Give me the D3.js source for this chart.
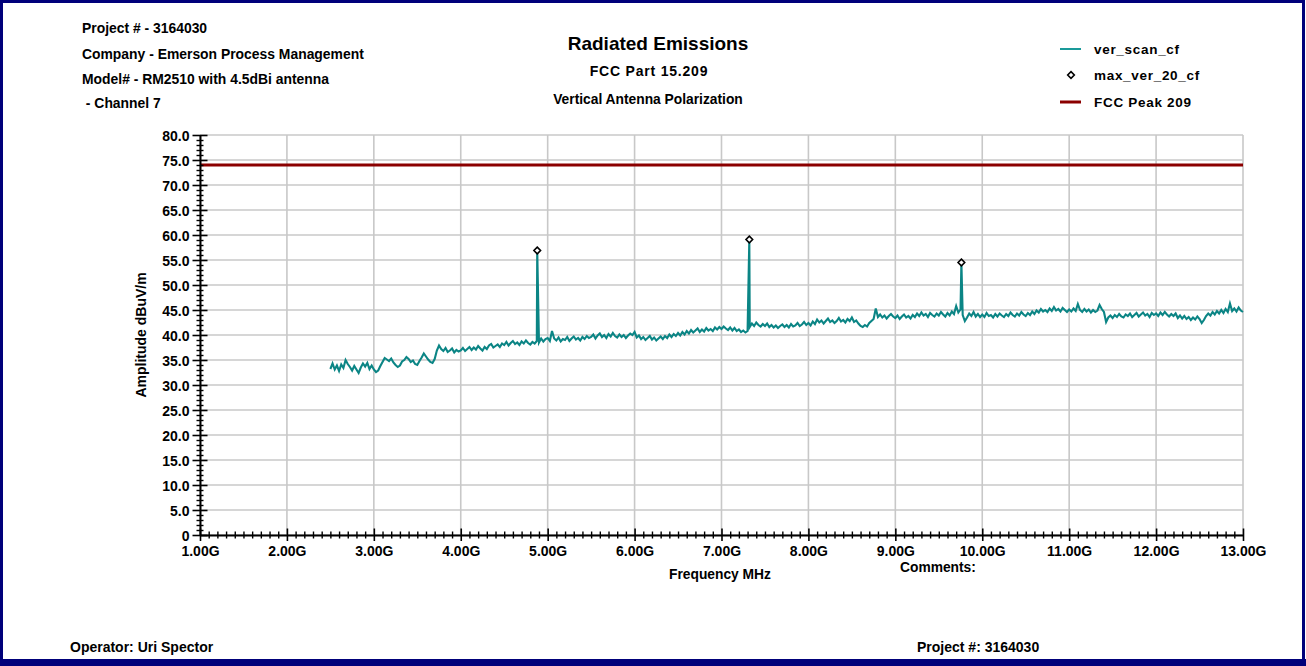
<!DOCTYPE html>
<html>
<head>
<meta charset="utf-8">
<script src="https://cdn.jsdelivr.net/npm/d3@7"></script>
<style>
  html, body { margin: 0; padding: 0; background: #fff; }
  svg { display: block; }
  text { font-family: "Liberation Sans", Arial, sans-serif; font-weight: bold; fill: #000; }
</style>
</head>
<body>
<svg id="chart" width="1306" height="666"></svg>
<script>
// Scan trace: amplitude in dBuV/m, sampled every 0.025 GHz from 2.5 GHz to 13.0 GHz
const scanStart = 2.5;
const scanStep = 0.025;
const scanValues = [
  33.2, 34.3, 33.1, 33.9, 32.8, 34.1, 33.4, 35.0, 34.2, 33.6, 32.9, 33.8, 33.1, 32.4, 33.5, 34.3, 33.7, 34.4, 33.2, 33.9,
  33.1, 32.6, 32.9, 33.8, 34.6, 35.4, 35.1, 34.8, 35.3, 34.5, 34.0, 33.6, 33.9, 34.7, 35.0, 35.6, 35.2, 34.6, 34.9, 34.2,
  34.0, 34.8, 35.5, 36.3, 35.7, 35.1, 34.6, 34.4, 35.2, 36.9, 37.9, 37.2, 36.8, 37.4, 36.6, 36.9, 37.3, 36.5, 37.0, 36.7,
  36.9, 37.4, 36.8, 37.2, 37.6, 37.0, 37.5, 37.1, 37.8, 37.3, 36.9, 37.6, 37.2, 37.9, 38.2, 37.5, 37.8, 38.1, 37.6, 38.3,
  38.0, 38.6, 37.9, 38.4, 38.8, 38.2, 38.5, 38.0, 38.7, 38.3, 38.9, 38.4, 38.1, 38.6, 38.3, 38.8, 38.5, 39.3, 38.7, 39.2,
  39.4, 38.8, 40.8, 39.3, 38.9, 39.5, 38.7, 39.2, 39.0, 39.6, 38.8, 39.3, 39.7, 39.1, 39.4, 38.9, 39.6, 39.2, 39.8, 39.4,
  39.6, 40.1, 39.3, 39.9, 40.3, 39.6, 40.0, 39.4, 40.2, 39.7, 40.4, 39.8, 39.5, 40.1, 39.6, 40.0, 39.4, 39.9, 40.3, 40.0,
  40.6, 39.5, 39.9, 39.2, 39.6, 39.0, 39.4, 39.8, 39.1, 39.5, 38.9, 39.3, 39.7, 39.2, 39.8, 39.4, 40.1, 39.6, 40.2, 39.8,
  40.4, 39.9, 40.6, 40.1, 40.8, 40.3, 41.0, 40.5, 40.9, 41.3, 40.6, 41.1, 40.7, 41.4, 40.9, 41.2, 40.8, 41.5, 41.1, 41.6,
  41.2, 41.7, 41.3, 41.0, 41.5, 40.9, 41.4, 40.8, 41.1, 40.6, 40.9, 40.5, 40.8, 41.6, 42.3, 41.8, 42.5, 42.0, 41.7, 42.2,
  41.8, 42.3, 41.6, 42.0, 41.5, 41.9, 41.4, 41.8, 42.1, 41.6, 42.0, 41.5, 42.2, 41.7, 41.9, 42.4, 41.8, 42.1, 42.6, 42.0,
  42.4, 41.9, 42.7, 42.2, 43.1, 42.5, 42.9, 42.3, 42.8, 43.3, 42.6, 42.9, 42.4, 42.8, 43.4, 42.7, 43.0, 42.5, 43.2, 42.8,
  43.5, 42.6, 42.9, 42.3, 41.8, 41.6, 42.0, 41.7, 42.4, 42.8, 43.2, 45.3, 43.6, 44.1, 43.5, 43.9, 43.3, 43.8, 44.2, 43.7,
  43.4, 43.9, 43.2, 43.7, 44.1, 43.5, 43.8, 43.3, 44.0, 43.6, 44.3, 43.8, 44.5, 43.9, 44.2, 43.6, 44.4, 44.0, 43.7, 44.3,
  43.9, 44.6, 44.1, 43.7, 44.4, 43.9, 44.7, 44.2, 45.8, 44.5, 45.1, 44.0, 42.8, 43.5, 44.3, 43.8, 44.6, 43.7, 44.2, 43.6,
  44.1, 43.6, 44.4, 43.8, 44.0, 43.5, 44.2, 43.7, 44.3, 43.9, 43.6, 44.2, 43.8, 44.5, 44.0, 43.7, 44.3, 43.9, 44.6, 44.1,
  43.8, 44.4, 44.0, 44.7, 44.2, 44.9, 44.5, 45.2, 44.7, 45.0, 44.6, 45.3, 44.8, 45.6, 44.9, 45.2, 44.7, 45.4, 45.0, 44.6,
  45.1, 44.7, 45.3, 44.8, 46.2, 45.0, 44.6, 45.2, 44.7, 45.1, 44.5, 45.0, 44.6, 44.9, 46.0, 45.2, 44.6, 42.6, 43.5, 43.9,
  43.4, 44.0, 43.6, 44.2, 43.7, 43.5, 44.1, 43.8, 44.3, 43.6, 44.0, 44.4, 43.7, 44.1, 44.5, 43.9, 44.2, 43.6, 44.4, 44.0,
  44.3, 43.8, 44.5, 44.0, 44.6, 44.1, 43.7, 44.2, 43.8, 44.3, 43.4, 43.9, 43.3, 43.8, 43.2, 43.6, 43.0, 43.5, 43.1, 43.7,
  43.2, 42.4, 43.0, 43.8, 44.3, 43.9, 44.6, 44.1, 44.8, 44.3, 45.0, 44.4, 45.2, 44.6, 46.3, 44.8, 45.3, 44.7, 45.5, 44.9,
  44.6
];

// Harmonic peaks found by the max search (GHz, dBuV/m)
const peakFreqs = [4.88, 7.32, 9.76];
const peakValues = [56.9, 59.1, 54.5];

// FCC 15.209 peak limit (dBuV/m)
const limitValue = 74.0;

// Axis ticks
const xMajorTicks = [1, 2, 3, 4, 5, 6, 7, 8, 9, 10, 11, 12, 13];
const yMajorTicks = [0, 5, 10, 15, 20, 25, 30, 35, 40, 45, 50, 55, 60, 65, 70, 75, 80];

// Text blocks
const headerLines = ["Project # - 3164030", "Company - Emerson Process Management", "Model# - RM2510 with 4.5dBi antenna", " - Channel 7"];
const titleText = "Radiated Emissions";
const subtitleLines = ["FCC Part 15.209", "Vertical Antenna Polarization"];
const legendLabels = ["ver_scan_cf", "max_ver_20_cf", "FCC Peak 209"];
const xAxisTitle = "Frequency MHz";
const yAxisTitle = "Amplitude dBuV/m";
const footerLeft = "Operator: Uri Spector";
const footerRight = "Project #: 3164030";

const traceColor = "#0b8585";
const limitColor = "#8b0000";
const gridColor = "#c8c8c8";
const frameColor = "#00007a";

const svg = d3.select("#chart");

// Page frame
svg.append("rect").attr("x", 1.5).attr("y", 1.5).attr("width", 1302).attr("height", 660)
  .attr("fill", "#fff").attr("stroke", frameColor).attr("stroke-width", 3);
svg.append("rect").attr("x", 0).attr("y", 659).attr("width", 1306).attr("height", 7).attr("fill", frameColor);

const plot = { left: 200, right: 1243, top: 135, bottom: 535 };
const x = d3.scaleLinear().domain([1, 13]).range([plot.left, plot.right]);
const y = d3.scaleLinear().domain([0, 80]).range([plot.bottom, plot.top]);

// Grid
const grid = svg.append("g");
grid.selectAll("line.h").data(yMajorTicks).join("line")
  .attr("x1", plot.left).attr("x2", plot.right)
  .attr("y1", d => y(d)).attr("y2", d => y(d))
  .attr("stroke", gridColor).attr("stroke-width", 1.6);
grid.selectAll("line.v").data(xMajorTicks).join("line")
  .attr("y1", plot.top).attr("y2", plot.bottom)
  .attr("x1", d => x(d)).attr("x2", d => x(d))
  .attr("stroke", gridColor).attr("stroke-width", 1.6);

// Limit line
svg.append("line")
  .attr("x1", x(1)).attr("x2", x(13)).attr("y1", y(limitValue)).attr("y2", y(limitValue))
  .attr("stroke", limitColor).attr("stroke-width", 3);

// Scan trace with the peaks merged in
const tracePts = scanValues.map((v, i) => ({ f: scanStart + i * scanStep, v }))
  .concat(peakFreqs.map((f, i) => ({ f, v: peakValues[i] })))
  .sort((a, b) => a.f - b.f);
const line = d3.line().x(d => x(d.f)).y(d => y(d.v));
svg.append("path").datum(tracePts)
  .attr("d", line).attr("fill", "none")
  .attr("stroke", traceColor).attr("stroke-width", 2.1).attr("stroke-linejoin", "miter");

// Peak markers
const diamond = d3.symbol().type(d3.symbolDiamond2).size(28);
svg.selectAll("path.peak").data(peakFreqs).join("path")
  .attr("transform", (d, i) => `translate(${x(d)},${y(peakValues[i])})`)
  .attr("d", diamond).attr("fill", "#fff").attr("stroke", "#000").attr("stroke-width", 1.6);

// Y axis: major ticks with labels, then minor ticks every 1 dB
const yAxis = svg.append("g").attr("transform", `translate(${plot.left},0)`)
  .call(d3.axisLeft(y).tickValues(yMajorTicks).tickSize(7.5).tickSizeOuter(0).tickPadding(3)
    .tickFormat(d => d === 0 ? "0" : d.toFixed(1)));
yAxis.selectAll(".tick line").attr("x1", 7.5).attr("stroke-width", 1.6);
yAxis.select(".domain").attr("stroke-width", 2);
yAxis.selectAll(".tick text").style("font-size", "14px").attr("font-family", null).attr("dy", "0.36em");
yAxis.attr("font-size", null).attr("font-family", null);

const yMinor = d3.range(0, 81, 1).filter(d => d % 5 !== 0);
const yMinorAxis = svg.append("g").attr("transform", `translate(${plot.left},0)`)
  .call(d3.axisLeft(y).tickValues(yMinor).tickSize(3.5).tickSizeOuter(0).tickFormat(""));
yMinorAxis.select(".domain").remove();
yMinorAxis.selectAll(".tick line").attr("x1", 3.5).attr("stroke-width", 1.4);

// X axis: major ticks with labels, minor ticks every 0.1 GHz
const xAxis = svg.append("g").attr("transform", `translate(0,${plot.bottom})`)
  .call(d3.axisBottom(x).tickValues(xMajorTicks).tickSize(6).tickSizeOuter(0).tickPadding(4)
    .tickFormat(d => d.toFixed(2) + "G"));
xAxis.selectAll(".tick line").attr("y1", -6.5).attr("stroke-width", 1.6);
xAxis.select(".domain").attr("stroke-width", 2);
xAxis.selectAll(".tick text").style("font-size", "14px").attr("font-family", null).attr("dy", "0.8em");
xAxis.attr("font-size", null).attr("font-family", null);

const xMinor = d3.range(10, 131, 1).filter(d => d % 10 !== 0).map(d => d / 10);
const xMinorAxis = svg.append("g").attr("transform", `translate(0,${plot.bottom})`)
  .call(d3.axisBottom(x).tickValues(xMinor).tickSize(3.5).tickSizeOuter(0).tickFormat(""));
xMinorAxis.select(".domain").remove();
xMinorAxis.selectAll(".tick line").attr("y1", -3.5).attr("stroke-width", 1.4);

// Axis titles
svg.append("text").attr("x", 720).attr("y", 579).attr("text-anchor", "middle")
  .style("font-size", "13.8px").text(xAxisTitle);
svg.append("text").attr("transform", "translate(146,335) rotate(-90)").attr("text-anchor", "middle")
  .style("font-size", "14px").text(yAxisTitle);
svg.append("text").attr("x", 900).attr("y", 572).style("font-size", "13.8px").text("Comments:");

// Header block
const headerY = [33, 59, 84, 108];
svg.selectAll("text.hdr").data(headerLines).join("text")
  .attr("x", 82).attr("y", (d, i) => headerY[i])
  .attr("xml:space", "preserve")
  .style("font-size", "13.9px").text(d => d);

// Titles
svg.append("text").attr("x", 658).attr("y", 50).attr("text-anchor", "middle")
  .style("font-size", "19px").text(titleText);
svg.append("text").attr("x", 649).attr("y", 76).attr("text-anchor", "middle")
  .style("font-size", "14px").style("letter-spacing", "0.8px").text(subtitleLines[0]);
svg.append("text").attr("x", 648).attr("y", 104).attr("text-anchor", "middle")
  .style("font-size", "13.8px").text(subtitleLines[1]);

// Legend
const legend = svg.append("g");
const legY = [49, 75, 102];
legend.append("line").attr("x1", 1060).attr("x2", 1081).attr("y1", legY[0]).attr("y2", legY[0])
  .attr("stroke", "#1a9a9a").attr("stroke-width", 2);
legend.append("path").attr("transform", `translate(1071,${legY[1]})`).attr("d", diamond)
  .attr("fill", "#fff").attr("stroke", "#000").attr("stroke-width", 1.6);
legend.append("line").attr("x1", 1060).attr("x2", 1081).attr("y1", legY[2]).attr("y2", legY[2])
  .attr("stroke", limitColor).attr("stroke-width", 3);
legend.selectAll("text").data(legendLabels).join("text")
  .attr("x", 1094).attr("y", (d, i) => legY[i] + 5)
  .style("font-size", "13.5px").style("letter-spacing", "0.7px").text(d => d);

// Footer
svg.append("text").attr("x", 70).attr("y", 652).style("font-size", "14px").text(footerLeft);
svg.append("text").attr("x", 917).attr("y", 652).style("font-size", "14px").text(footerRight);
</script>
</body>
</html>
